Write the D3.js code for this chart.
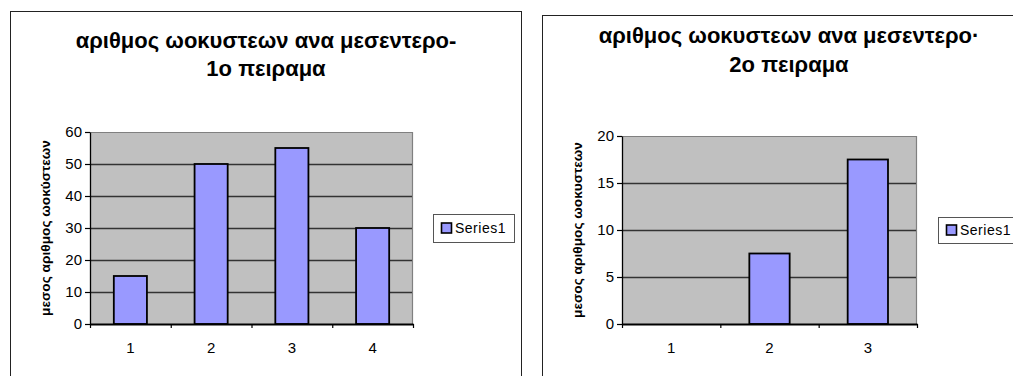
<!DOCTYPE html>
<html>
<head>
<meta charset="utf-8">
<script src="https://cdn.jsdelivr.net/npm/d3@7/dist/d3.min.js"></script>
<style>
  html, body { margin: 0; padding: 0; background: #fff; }
  svg { display: block; font-family: "Liberation Sans", Arial, sans-serif; }
</style>
</head>
<body>
<svg id="chart" width="1013" height="376"></svg>
<script>
// Experiment 1: mean oocysts per mesentery
const categories1 = ["1", "2", "3", "4"];
const values1 = [15, 50, 55, 30];
const yTicks1 = [0, 10, 20, 30, 40, 50, 60];
const title1 = ["αριθμος ωοκυστεων ανα μεσεντερο-", "1ο πειραμα"];
const yTitle1 = "μεσος αριθμος ωοκύστεων";

// Experiment 2
const categories2 = ["1", "2", "3"];
const values2 = [0, 7.5, 17.5];
const yTicks2 = [0, 5, 10, 15, 20];
const title2 = ["αριθμος ωοκυστεων ανα μεσεντερο·", "2ο πειραμα"];
const yTitle2 = "μεσος αριθμος ωοκυστεων";

const seriesName = "Series1";

const svg = d3.select("#chart");

function drawPanel(cfg) {
  const g = svg.append("g");

  // outer chart frame
  g.append("rect")
    .attr("x", cfg.frame.x + 0.5).attr("y", cfg.frame.y + 0.5)
    .attr("width", cfg.frame.w).attr("height", cfg.frame.h)
    .attr("fill", "#fff").attr("stroke", "#222").attr("stroke-width", 1);

  // title
  const t = g.append("text")
    .attr("text-anchor", "middle")
    .attr("font-weight", "bold")
    .attr("font-size", cfg.titleSize)
    .attr("fill", "#000");
  cfg.title.forEach((line, i) => {
    t.append("tspan")
      .attr("x", cfg.titleX)
      .attr("y", cfg.titleY + i * cfg.titleGap)
      .text(line);
  });

  const p = cfg.plot;
  const x = d3.scaleBand()
    .domain(cfg.categories)
    .range([p.x0, p.x1])
    .paddingInner(0.59)
    .paddingOuter(0.295);
  const xEdges = d3.scaleLinear()
    .domain([0, cfg.categories.length])
    .range([p.x0, p.x1]);
  const y = d3.scaleLinear()
    .domain([0, d3.max(cfg.yTicks)])
    .range([p.y1, p.y0]);

  // plot background
  g.append("rect")
    .attr("x", p.x0).attr("y", p.y0)
    .attr("width", p.x1 - p.x0).attr("height", p.y1 - p.y0)
    .attr("fill", "#c0c0c0");
  // plot area border (top/right)
  g.append("path")
    .attr("d", `M${p.x0},${p.y0 + 0.5}H${p.x1 - 0.5}V${p.y1}`)
    .attr("fill", "none").attr("stroke", "#808080").attr("stroke-width", 1.2);

  // horizontal gridlines
  g.append("g")
    .selectAll("line")
    .data(cfg.yTicks.filter(v => v > 0 && v < d3.max(cfg.yTicks)))
    .join("line")
    .attr("x1", p.x0).attr("x2", p.x1 - 1)
    .attr("y1", d => Math.round(y(d)) + 0.5).attr("y2", d => Math.round(y(d)) + 0.5)
    .attr("stroke", "#333").attr("stroke-width", 1.5);

  // bars
  const rows = cfg.categories.map((c, i) => ({ c, v: cfg.values[i] }));
  g.append("g")
    .selectAll("rect")
    .data(rows.filter(d => d.v > 0))
    .join("rect")
    .attr("x", d => x(d.c))
    .attr("y", d => y(d.v))
    .attr("width", x.bandwidth())
    .attr("height", d => y(0) - y(d.v))
    .attr("fill", "#9999ff")
    .attr("stroke", "#000")
    .attr("stroke-width", 1.8);

  // y axis
  const yAxis = g.append("g")
    .attr("transform", `translate(${p.x0},0)`)
    .call(d3.axisLeft(y).tickValues(cfg.yTicks).tickSize(5).tickPadding(3).tickSizeOuter(0));
  yAxis.select(".domain").attr("stroke", "#000").attr("stroke-width", 1.3);
  yAxis.selectAll(".tick line").attr("stroke", "#000").attr("stroke-width", 1.2);
  yAxis.selectAll(".tick text")
    .attr("font-size", cfg.tickSize)
    .attr("font-family", "Liberation Sans, Arial, sans-serif")
    .attr("fill", "#000");

  // x axis: boundary ticks
  const xTicks = g.append("g")
    .attr("transform", `translate(0,${p.y1})`)
    .call(d3.axisBottom(xEdges).tickValues(d3.range(cfg.categories.length + 1))
      .tickFormat("").tickSize(4).tickSizeOuter(0));
  xTicks.select(".domain").attr("stroke", "#000").attr("stroke-width", 1.8);
  xTicks.selectAll(".tick line").attr("stroke", "#000").attr("stroke-width", 1.2);

  // x axis: category labels
  const xLabels = g.append("g")
    .attr("transform", `translate(0,${p.y1})`)
    .call(d3.axisBottom(x).tickSize(0).tickPadding(cfg.xLabelPad));
  xLabels.select(".domain").remove();
  xLabels.selectAll(".tick text")
    .attr("font-size", cfg.tickSize)
    .attr("font-family", "Liberation Sans, Arial, sans-serif")
    .attr("fill", "#000");

  // y axis title
  g.append("text")
    .attr("transform", `translate(${cfg.yTitleX},${(p.y0 + p.y1) / 2}) rotate(-90)`)
    .attr("text-anchor", "middle")
    .attr("font-weight", "bold")
    .attr("font-size", cfg.yTitleSize)
    .attr("fill", "#000")
    .text(cfg.yTitle);

  // legend
  const L = cfg.legend;
  g.append("rect")
    .attr("x", L.x + 0.5).attr("y", L.y + 0.5)
    .attr("width", L.w).attr("height", L.h)
    .attr("fill", "#fff").attr("stroke", "#555").attr("stroke-width", 1);
  g.append("rect")
    .attr("x", L.x + 8.5).attr("y", L.y + L.h / 2 - 5)
    .attr("width", 10).attr("height", 10)
    .attr("fill", "#9999ff").attr("stroke", "#000").attr("stroke-width", 1.6);
  g.append("text")
    .attr("x", L.x + 22).attr("y", L.y + L.h / 2 + 5)
    .attr("font-size", cfg.legendSize)
    .attr("letter-spacing", 0.5)
    .attr("fill", "#000")
    .text(seriesName);
}

drawPanel({
  frame: { x: 10, y: 11, w: 511, h: 400 },
  title: title1, titleX: 266, titleY: 48, titleGap: 28, titleSize: 22,
  categories: categories1, values: values1, yTicks: yTicks1,
  plot: { x0: 90, x1: 413, y0: 132, y1: 324 },
  tickSize: 15, xLabelPad: 18,
  yTitle: yTitle1, yTitleX: 50, yTitleSize: 13.7,
  legend: { x: 433, y: 214, w: 81, h: 28 }, legendSize: 14
});

drawPanel({
  frame: { x: 542, y: 15, w: 500, h: 400 },
  title: title2, titleX: 789, titleY: 43, titleGap: 29, titleSize: 22,
  categories: categories2, values: values2, yTicks: yTicks2,
  plot: { x0: 622, x1: 917, y0: 136, y1: 324 },
  tickSize: 15, xLabelPad: 18,
  yTitle: yTitle2, yTitleX: 582, yTitleSize: 13.7,
  legend: { x: 938, y: 217, w: 90, h: 26 }, legendSize: 14
});
</script>
</body>
</html>
